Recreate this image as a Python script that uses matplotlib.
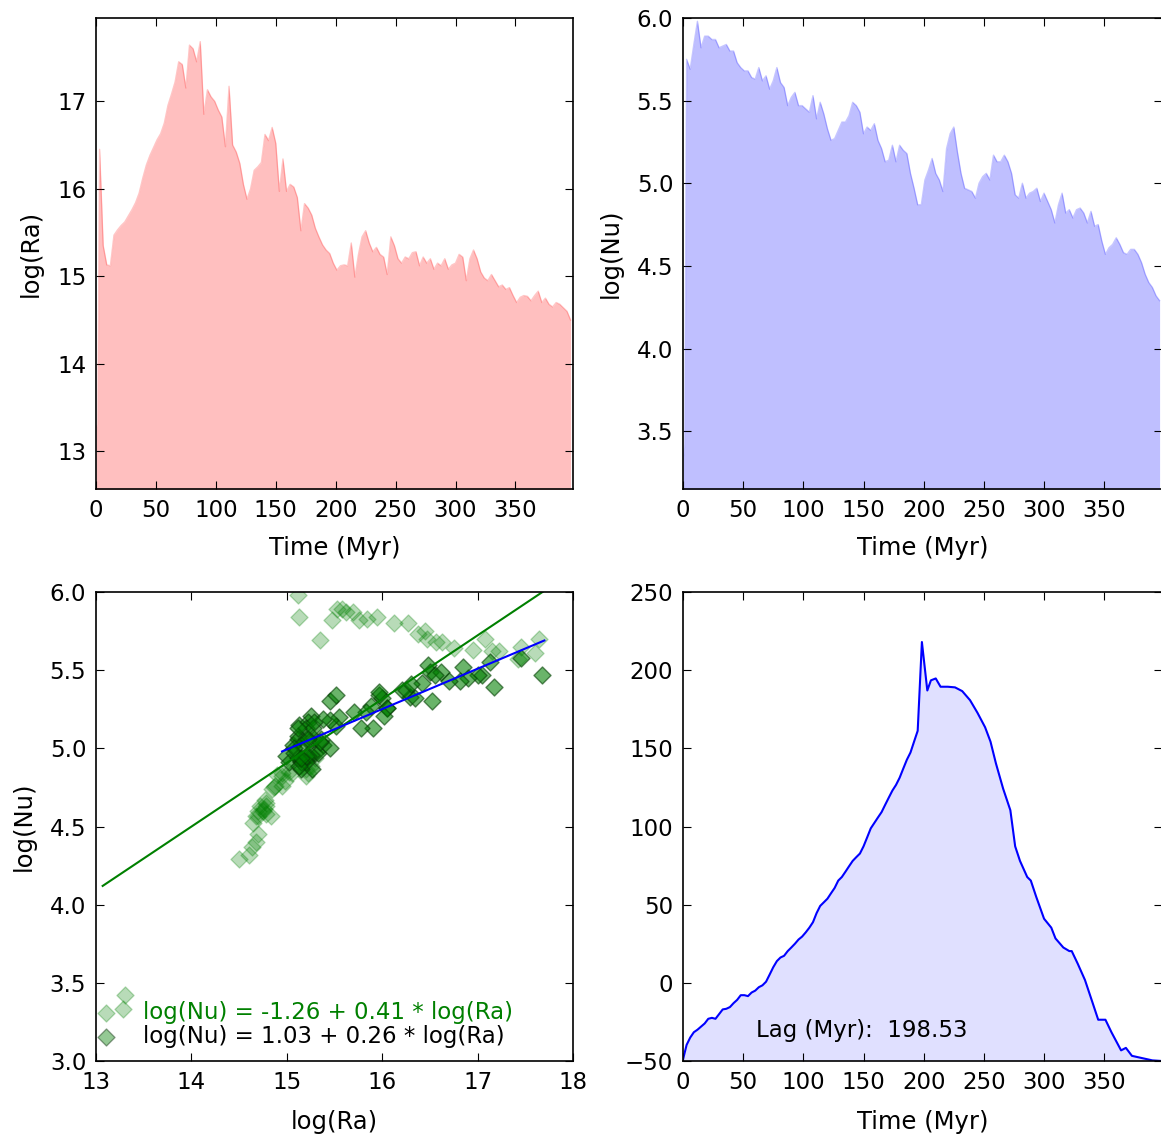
import numpy as np
import matplotlib
matplotlib.use('Agg')
import matplotlib.pyplot as plt
from matplotlib.ticker import FormatStrFormatter

# time grid (Myr) shared by the Ra and Nu series
time = [0, 1.5] + list(range(3, 397, 3))

log_ra = [13.28, 13.30, 16.45, 15.35, 15.13, 15.12, 15.47, 15.53, 15.58, 15.62,
          15.69, 15.76, 15.84, 15.95, 16.12, 16.27, 16.38, 16.47, 16.56, 16.63,
          16.75, 16.95, 17.08, 17.22, 17.45, 17.42, 17.15, 17.64, 17.60, 17.45,
          17.68, 16.85, 17.13, 17.05, 17.00, 16.90, 16.82, 16.48, 17.17, 16.50,
          16.42, 16.29, 16.05, 15.88, 16.00, 16.21, 16.25, 16.30, 16.62, 16.55,
          16.70, 16.52, 15.97, 16.34, 15.97, 16.05, 16.02, 15.90, 15.52, 15.83,
          15.78, 15.70, 15.55, 15.45, 15.36, 15.30, 15.26, 15.15, 15.07, 15.12,
          15.13, 15.12, 15.38, 14.99, 15.25, 15.45, 15.52, 15.38, 15.28, 15.33,
          15.25, 15.22, 15.02, 15.45, 15.35, 15.20, 15.15, 15.22, 15.20, 15.27,
          15.28, 15.12, 15.22, 15.15, 15.20, 15.08, 15.15, 15.12, 15.20, 15.08,
          15.13, 15.15, 15.25, 15.22, 14.95, 15.20, 15.30, 15.20, 15.05, 14.98,
          14.95, 15.02, 14.95, 14.88, 14.90, 14.85, 14.87, 14.78, 14.70, 14.76,
          14.78, 14.77, 14.72, 14.78, 14.83, 14.70, 14.75, 14.68, 14.65, 14.70,
          14.68, 14.64, 14.60, 14.50]

log_nu = [3.33, 3.42, 5.75, 5.69, 5.84, 5.98, 5.82, 5.89, 5.89, 5.87,
          5.87, 5.82, 5.83, 5.84, 5.80, 5.80, 5.73, 5.70, 5.68, 5.68,
          5.64, 5.63, 5.70, 5.62, 5.65, 5.57, 5.62, 5.70, 5.61, 5.58,
          5.47, 5.52, 5.55, 5.47, 5.47, 5.45, 5.43, 5.53, 5.39, 5.49,
          5.42, 5.33, 5.26, 5.27, 5.32, 5.37, 5.37, 5.41, 5.49, 5.47,
          5.43, 5.30, 5.34, 5.32, 5.36, 5.26, 5.21, 5.13, 5.14, 5.23,
          5.13, 5.23, 5.20, 5.18, 5.06, 4.97, 4.87, 4.87, 5.02, 5.08,
          5.15, 5.06, 5.02, 4.95, 5.21, 5.30, 5.34, 5.19, 5.06, 4.97,
          4.96, 4.95, 4.91, 5.00, 5.04, 5.06, 5.02, 5.17, 5.13, 5.13,
          5.17, 5.13, 5.06, 4.93, 4.91, 5.00, 4.91, 4.94, 4.95, 4.97,
          4.89, 4.94, 4.89, 4.84, 4.76, 4.87, 4.94, 4.82, 4.84, 4.79,
          4.84, 4.85, 4.82, 4.76, 4.83, 4.74, 4.75, 4.65, 4.57, 4.61,
          4.63, 4.67, 4.63, 4.58, 4.57, 4.60, 4.60, 4.57, 4.52, 4.45,
          4.40, 4.37, 4.32, 4.29]

# cross-correlation curve vs lag
lag_time = [0, 3, 6, 9, 12, 15, 18, 21, 24, 27,
            30, 33, 36, 39, 42, 45, 48, 51, 54, 57,
            60, 63, 66, 69, 72, 75, 78, 81, 84, 87,
            90, 93, 96, 99, 102, 105, 108, 111, 114, 117,
            120, 123, 126, 129, 132, 135, 138, 141, 144, 147,
            150, 153, 156, 159, 162, 165, 168, 171, 174, 177,
            180, 183, 186, 189, 192, 195, 198.5, 203, 206, 210,
            214, 220, 226, 232, 238.5, 244.7, 251, 255.5, 260, 266,
            272, 276, 280, 286, 289, 293.5, 300, 306, 309.5, 316,
            321, 323, 328, 334, 340, 345, 351, 356, 360, 364,
            368, 373, 380, 390, 398]
lag_corr = [-49, -39.7, -35, -31.6, -30, -28, -26, -23, -22.4, -23,
            -20, -17, -16.6, -15.5, -13, -10.9, -7.9, -7.9, -8.5, -6.2,
            -5, -2.8, -1.6, 0.7, 5.3, 10, 13.9, 16.2, 17.3, 20.3,
            22.6, 25, 27.7, 29.6, 32.3, 35.3, 38.8, 44.6, 49.2, 51.5,
            53.8, 57.3, 60.7, 65.4, 67.7, 71.1, 74.6, 78, 80.4, 82.7,
            87.3, 93, 98.8, 102.3, 105.8, 109.2, 113.9, 118.5, 123, 126.6,
            131.2, 137, 142.7, 147.3, 154.3, 161.2, 218, 187, 193.5, 194.7,
            189.4, 189.4, 189, 186.6, 180.8, 172.7, 163.5, 154.3, 140.4, 124.2,
            110.4, 87.3, 78, 67.7, 65.4, 55, 41, 35.3, 28.4, 22.6,
            20.3, 20.3, 12.2, 1.8, -12, -23.6, -23.6, -31.6, -37.4, -43.2,
            -41.6, -46.7, -47.9, -49.6, -50]

# fitted lines (end points)
green_fit_x = [13.07, 17.68]
green_fit_y = [4.12, 6.0]
blue_fit_x = [14.95, 17.7]
blue_fit_y = [4.98, 5.69]
fit_labels = ['log(Nu) = -1.26 + 0.41 * log(Ra)', 'log(Nu) = 1.03 + 0.26 * log(Ra)']
lag_text = 'Lag (Myr):  198.53'
subset_start, subset_end = 84, 300

time = np.array(time)
log_ra = np.array(log_ra)
log_nu = np.array(log_nu)

plt.rcParams.update({
    'font.size': 16.5,
    'axes.labelsize': 17.5,
    'axes.labelpad': 10,
    'xtick.direction': 'in',
    'ytick.direction': 'in',
    'xtick.top': True,
    'ytick.right': True,
    'xtick.major.size': 5.5,
    'ytick.major.size': 5.5,
    'xtick.major.pad': 7,
    'ytick.major.pad': 7,
    'axes.linewidth': 1.2,
})

W, H = 1161, 1139
fig = plt.figure(figsize=(W / 100, H / 100), dpi=100)

def box(l, t, r, b):
    return [l / W, 1 - b / H, (r - l) / W, (b - t) / H]

ax1 = fig.add_axes(box(96, 18, 573, 489))
ax2 = fig.add_axes(box(683, 18, 1162, 489))
ax3 = fig.add_axes(box(96, 592, 573, 1061))
ax4 = fig.add_axes(box(683, 592, 1162, 1061))

# log(Ra) vs time
ax1.fill_between(time, log_ra, 10, color='r', alpha=0.25, lw=0)
ax1.plot(time, log_ra, color='r', alpha=0.22, lw=1)
ax1.set_xlim(0, 398)
ax1.set_ylim(12.57, 17.95)
ax1.set_xticks(range(0, 400, 50))
ax1.set_yticks([13, 14, 15, 16, 17])
ax1.set_xlabel('Time (Myr)')
ax1.set_ylabel('log(Ra)')

# log(Nu) vs time
ax2.fill_between(time, log_nu, 0, color='b', alpha=0.25, lw=0)
ax2.plot(time, log_nu, color='b', alpha=0.22, lw=1)
ax2.set_xlim(0, 398)
ax2.set_ylim(3.15, 6.0)
ax2.set_xticks(range(0, 400, 50))
ax2.set_yticks(np.arange(3.5, 6.01, 0.5))
ax2.yaxis.set_major_formatter(FormatStrFormatter('%.1f'))
ax2.set_xlabel('Time (Myr)')
ax2.set_ylabel('log(Nu)')

# scatter of Nu vs Ra
sub = (time >= subset_start) & (time <= subset_end)
sc1 = ax3.scatter(log_ra, log_nu, s=75, marker='D', color='g', alpha=0.28, lw=1)
sc2 = ax3.scatter(log_ra[sub], log_nu[sub], s=75, marker='D', facecolor='g',
                  edgecolor='#0a2a0a', alpha=0.42, lw=1)
ax3.plot(green_fit_x, green_fit_y, color='g', lw=1.5)
ax3.plot(blue_fit_x, blue_fit_y, color='b', lw=1.5)
ax3.set_xlim(13, 18)
ax3.set_ylim(3, 6)
ax3.set_yticks(np.arange(3.0, 6.01, 0.5))
ax3.yaxis.set_major_formatter(FormatStrFormatter('%.1f'))
ax3.set_xlabel('log(Ra)', labelpad=12)
ax3.set_ylabel('log(Nu)')
leg = ax3.legend([sc1, sc2], fit_labels, loc='lower left', bbox_to_anchor=(0.005, 0.028),
                 scatterpoints=1, frameon=False, fontsize=16.5, borderaxespad=0.0,
                 borderpad=0.0, handlelength=0.7, handletextpad=1.26, labelspacing=0.05)
leg.get_texts()[0].set_color('g')

# lag correlation
ax4.fill_between(lag_time, lag_corr, -50, color='b', alpha=0.12, lw=0)
ax4.plot(lag_time, lag_corr, color='b', lw=1.5)
ax4.set_xlim(0, 398)
ax4.set_ylim(-50, 250)
ax4.set_xticks(range(0, 400, 50))
ax4.set_xlabel('Time (Myr)', labelpad=12)
ax4.text(61, -30.5, lag_text, va='center', fontsize=16.5)

fig.savefig('out.png', dpi=100)
